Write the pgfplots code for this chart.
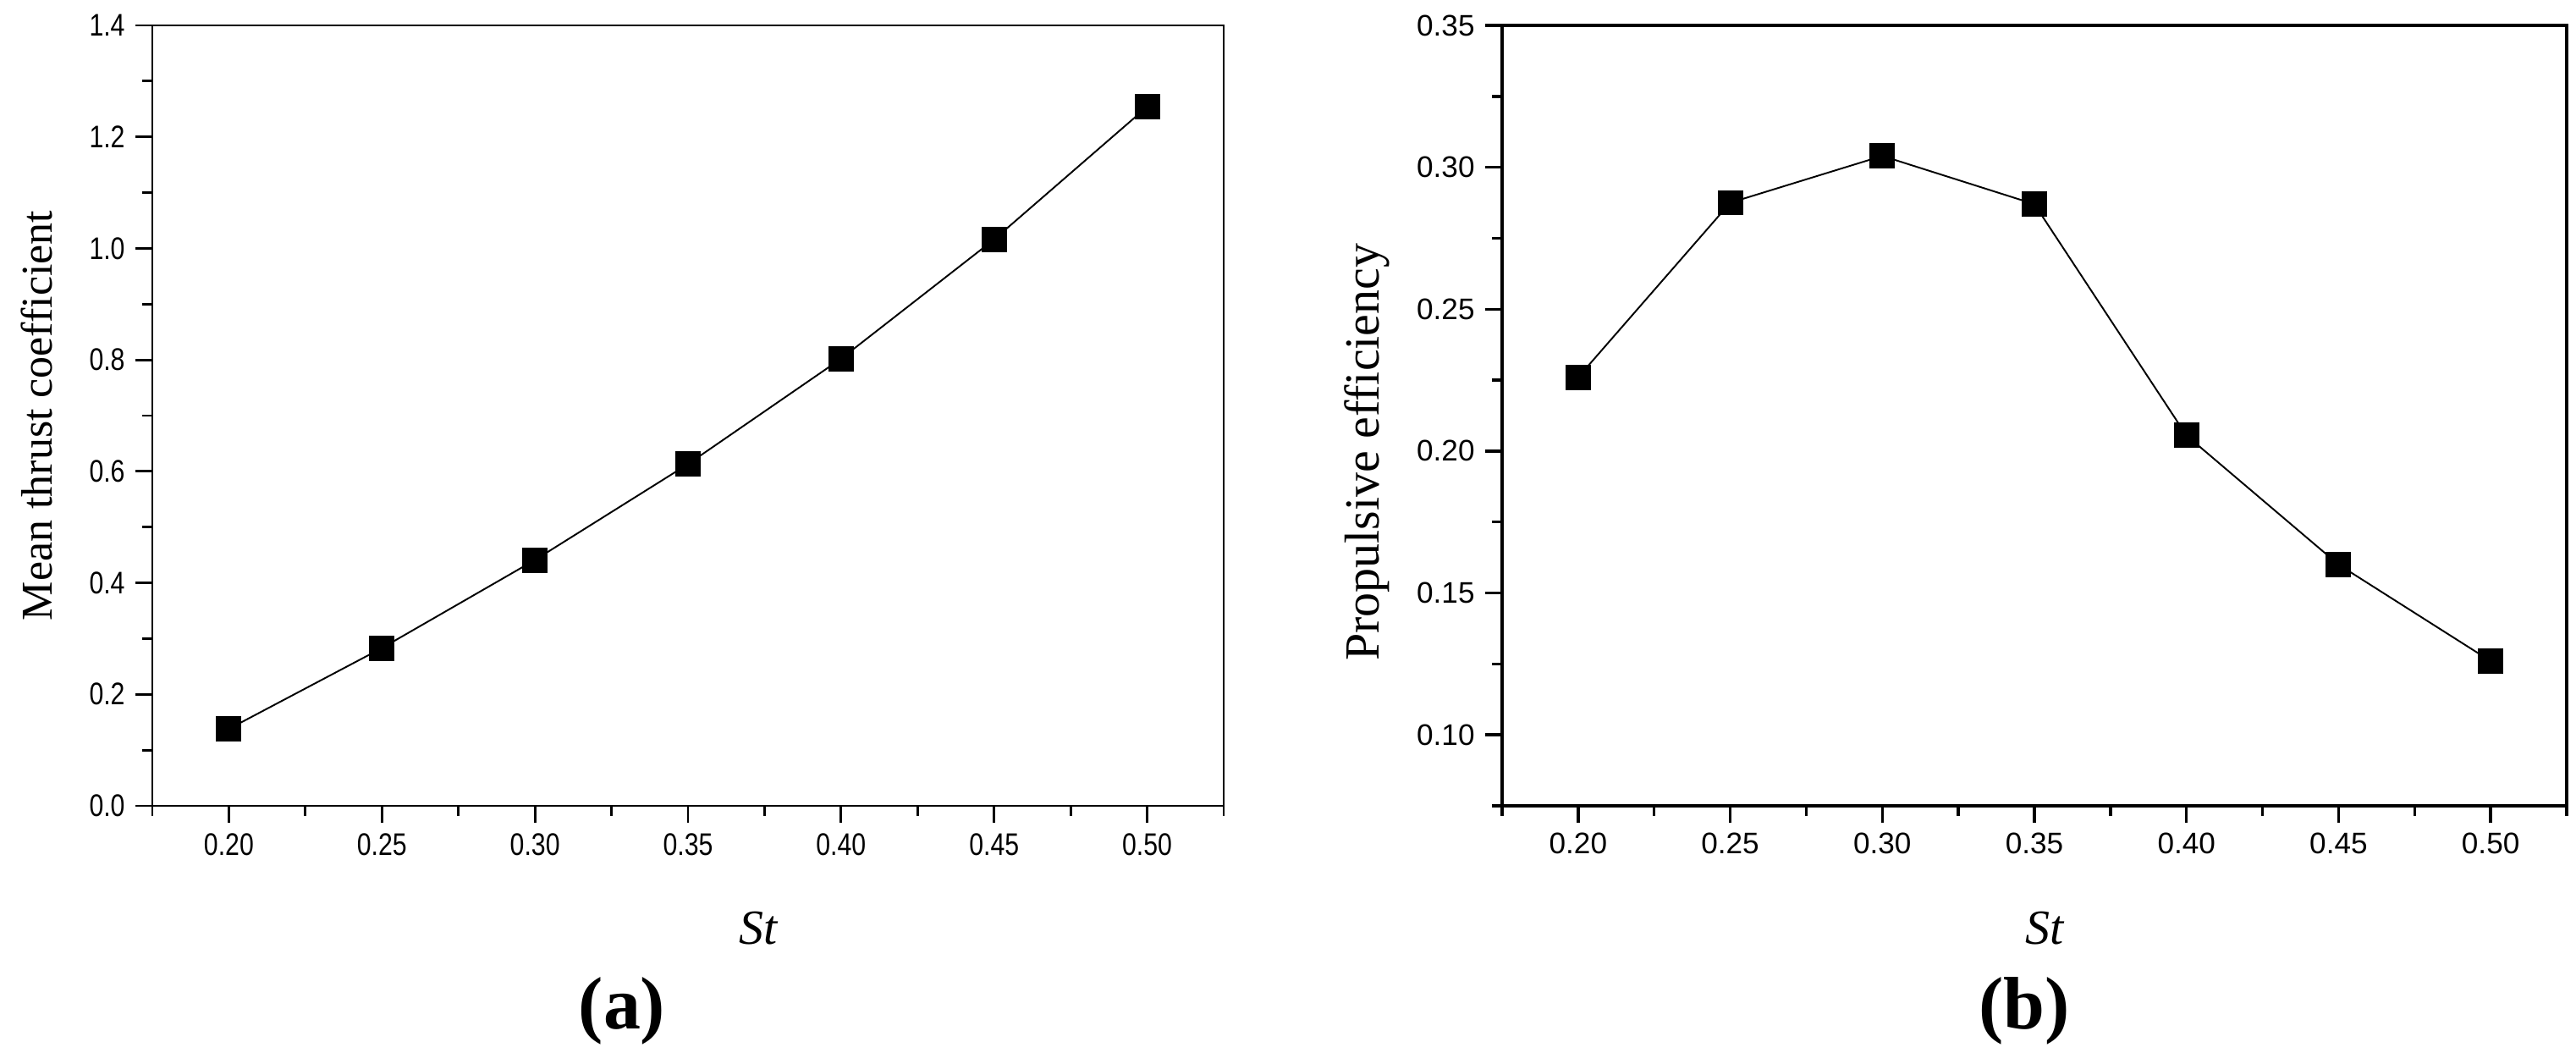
\documentclass[border=0pt]{standalone}
\usepackage{fontspec}
\setmainfont{Liberation Serif}
\newfontfamily\tickfont[FakeStretch=0.82]{Liberation Sans}
\newfontfamily\tickfontb{Liberation Sans}
\usepackage{pgfplots}
\pgfplotsset{compat=1.18}

\pgfplotsset{
  panel/.style={
    scale only axis,
    xmin=0.175, xmax=0.525,
    xtick={0.20,0.25,0.30,0.35,0.40,0.45,0.50},
    minor xtick={0.175,0.225,0.275,0.325,0.375,0.425,0.475,0.525},
    tick pos=left,
    tick align=outside,
    major tick length=0.2cm,
    minor tick length=0.12cm,
    every tick/.style={black, line width=0.8pt},
    axis line style={line width=0.8pt},
    /pgf/number format/assume math mode=true,
    x tick label style={/pgf/number format/.cd, fixed, fixed zerofill, precision=2},
    xlabel={\textit{St}},
  },
  dataline/.style={black, line width=0.55pt, mark=square*, mark size=0.14cm,
    mark options={solid, fill=black}},
}

\begin{document}
\begin{tikzpicture}
\useasboundingbox (0,0) rectangle (30.44,12.44);

% (a) mean thrust coefficient
\begin{axis}[panel,
  at={(1.80cm,2.92cm)}, anchor=south west,
  width=12.66cm, height=9.22cm,
  ymin=0, ymax=1.4,
  ytick={0,0.2,0.4,0.6,0.8,1.0,1.2,1.4},
  minor ytick={0.1,0.3,0.5,0.7,0.9,1.1,1.3},
  y tick label style={/pgf/number format/.cd, fixed, fixed zerofill, precision=1},
  tick label style={font=\tickfont\fontsize{10.5}{12}\selectfont},
  ylabel={Mean thrust coefficient},
  every axis y label/.style={at={(axis description cs:-0.108,0.5)}, rotate=90, anchor=center,
    font=\fontsize{14.8}{18}\selectfont},
  every axis x label/.style={at={(axis description cs:0.566,-0.157)}, anchor=center,
    font=\fontsize{16.5}{19}\selectfont},
]
\addplot[dataline] coordinates {
  (0.20,0.138) (0.25,0.283) (0.30,0.441) (0.35,0.613)
  (0.40,0.802) (0.45,1.016) (0.50,1.254)
};
\end{axis}

% (b) propulsive efficiency
\begin{axis}[panel,
  at={(17.75cm,2.92cm)}, anchor=south west,
  width=12.58cm, height=9.22cm,
  ymin=0.075, ymax=0.35,
  ytick={0.10,0.15,0.20,0.25,0.30,0.35},
  minor ytick={0.075,0.125,0.175,0.225,0.275,0.325},
  y tick label style={/pgf/number format/.cd, fixed, fixed zerofill, precision=2},
  tick label style={font=\tickfontb\fontsize{10}{12}\selectfont},
  every tick/.style={black, line width=1.0pt},
  axis line style={line width=1.1pt},
  ylabel={Propulsive efficiency},
  every axis y label/.style={at={(axis description cs:-0.127,0.453)}, rotate=90, anchor=center,
    font=\fontsize{16.5}{19}\selectfont},
  every axis x label/.style={at={(axis description cs:0.51,-0.157)}, anchor=center,
    font=\fontsize{16.5}{19}\selectfont},
]
\addplot[dataline] coordinates {
  (0.20,0.226) (0.25,0.2875) (0.30,0.304) (0.35,0.287)
  (0.40,0.2055) (0.45,0.160) (0.50,0.126)
};
\end{axis}

\node[font=\bfseries\fontsize{25}{30}\selectfont] at (7.35,0.50) {(a)};
\node[font=\bfseries\fontsize{25}{30}\selectfont] at (23.92,0.50) {(b)};
\end{tikzpicture}
\end{document}
